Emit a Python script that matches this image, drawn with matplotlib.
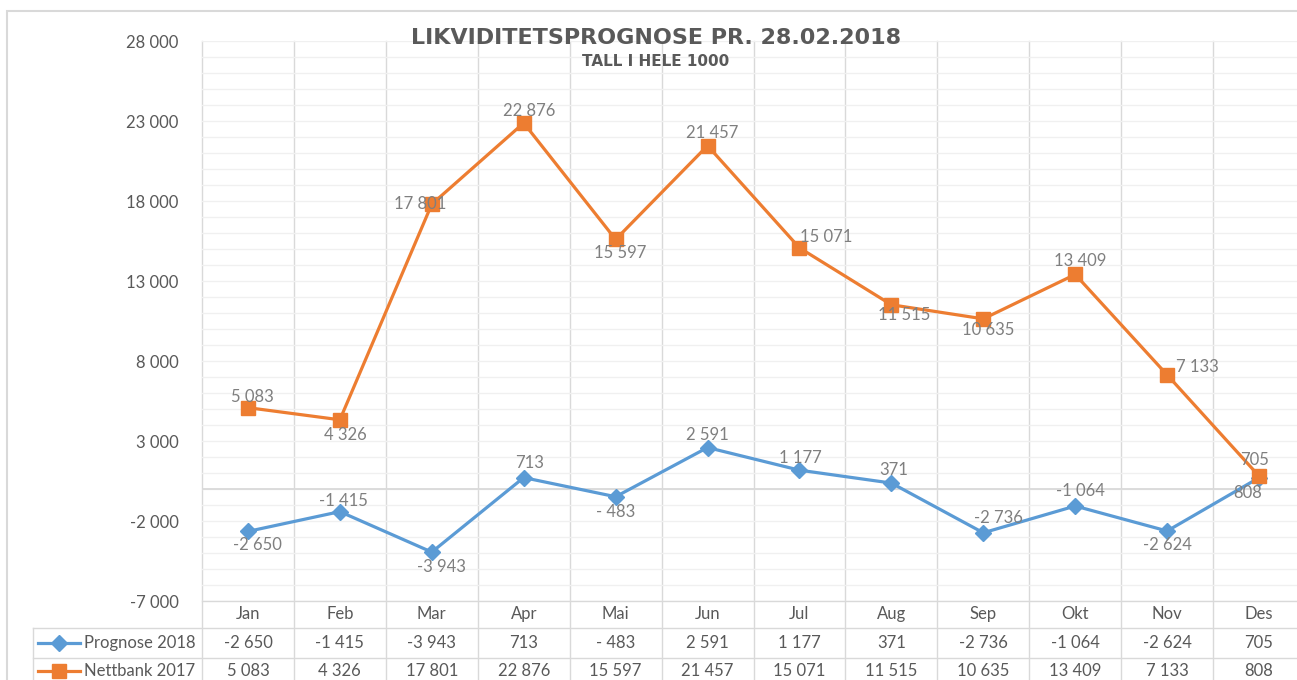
import matplotlib
matplotlib.use("Agg")
import matplotlib.pyplot as plt
from matplotlib.lines import Line2D
from matplotlib.patches import Rectangle
from matplotlib.transforms import blended_transform_factory

plt.rcParams['font.family'] = ['Lato', 'DejaVu Sans']

months = ['Jan', 'Feb', 'Mar', 'Apr', 'Mai', 'Jun', 'Jul', 'Aug', 'Sep', 'Okt', 'Nov', 'Des']
prognose_2018 = [-2650, -1415, -3943, 713, -483, 2591, 1177, 371, -2736, -1064, -2624, 705]
nettbank_2017 = [5083, 4326, 17801, 22876, 15597, 21457, 15071, 11515, 10635, 13409, 7133, 808]
series_names = ['Prognose 2018', 'Nettbank 2017']

title = 'LIKVIDITETSPROGNOSE PR. 28.02.2018'
subtitle = 'TALL I HELE 1000'

# label offsets in pixels (dx, dy), copied by eye from the Excel placement
blue_offsets = [(9, -14), (4, 11), (10, -15), (6, 15), (0, -15), (0, 13),
                (1, 12), (2, 13), (15, 15), (5, 15), (0, -14), (-4, 18)]
orange_offsets = [(4, 11), (6, -15), (-12, 0), (5, 12), (5, -14), (5, 13),
                  (27, 11), (13, -10), (5, -11), (5, 13), (30, 8), (-11, -17)]

BLUE = '#5B9BD5'
ORANGE = '#ED7D31'
TEXT = '#595959'
LABEL = '#7F7F7F'
GRID = '#D9D9D9'
MINOR = '#F0F0F0'

W, H = 1297, 680


def fmt(v):
    s = f"{abs(v):,}".replace(',', ' ')
    if v < 0:
        return ('- ' if abs(v) < 1000 else '-') + s
    return s


fig = plt.figure(figsize=(W / 100, H / 100), dpi=100)

# outer chart border
fig.add_artist(Rectangle((7 / W, -0.1), 1.2, 1.1 - 11 / H, transform=fig.transFigure,
                         fill=False, edgecolor=GRID, linewidth=1.5))

# plot area: left 202px, right 1305px (cut off by image), top 41px, bottom 601px
ax = fig.add_axes([202 / W, 1 - 601 / H, (1305 - 202) / W, 560 / H])
x = list(range(len(months)))
ax.set_xlim(-0.5, len(months) - 0.5)
ax.set_ylim(-7000, 28000)
for s in ax.spines.values():
    s.set_visible(False)

ax.set_yticks(range(-7000, 28001, 5000))
ax.set_yticklabels([fmt(v) for v in range(-7000, 28001, 5000)])
ax.set_yticks(range(-7000, 28001, 1000), minor=True)
ax.tick_params(axis='y', which='both', length=0, pad=17, labelsize=12, labelcolor=TEXT)
ax.set_xticks([])
ax.grid(axis='y', which='both', color=MINOR, linewidth=1)
ax.set_axisbelow(True)
ax.axhline(0, color=GRID, linewidth=1.3, zorder=1)

px_per_cat = 1103 / 12


def xpx(px):
    return (px - 202) / px_per_cat - 0.5


def ypx(py):
    return (601 - py) / 560


bt = blended_transform_factory(ax.transData, ax.transAxes)
table_bottom = ypx(700)

# vertical gridlines reaching down through the data table
for b in [i - 0.5 for i in range(len(months) + 1)]:
    ax.plot([b, b], [1, table_bottom], transform=bt, color=GRID, linewidth=1,
            clip_on=False, zorder=0)
ax.plot([-0.5, 12], [0, 0], transform=bt, color=GRID, linewidth=1, clip_on=False)
for py in (628, 658):
    ax.plot([xpx(33), 12], [ypx(py), ypx(py)], transform=bt, color=GRID,
            linewidth=1, clip_on=False)
ax.plot([xpx(33), xpx(33)], [ypx(628), table_bottom], transform=bt, color=GRID,
        linewidth=1, clip_on=False)

# lines
ax.plot(x, prognose_2018, color=BLUE, linewidth=2.3, marker='D', markersize=8,
        zorder=3)
ax.plot(x, nettbank_2017, color=ORANGE, linewidth=2.3, marker='s', markersize=10,
        zorder=3)

for xi, v, off in zip(x, prognose_2018, blue_offsets):
    ax.annotate(fmt(v), (xi, v), xytext=off, textcoords='offset pixels',
                ha='center', va='center', fontsize=12, color=LABEL, zorder=4)
for xi, v, off in zip(x, nettbank_2017, orange_offsets):
    ax.annotate(fmt(v), (xi, v), xytext=off, textcoords='offset pixels',
                ha='center', va='center', fontsize=12, color=LABEL, zorder=4)

# data table
row_y = [ypx(614), ypx(643), ypx(671)]
for xi, m in zip(x, months):
    ax.text(xi, row_y[0], m, transform=bt, ha='center', va='center',
            fontsize=12, color=TEXT)
for xi, a, b in zip(x, prognose_2018, nettbank_2017):
    ax.text(xi, row_y[1], fmt(a), transform=bt, ha='center', va='center',
            fontsize=12, color=TEXT)
    ax.text(xi, row_y[2], fmt(b), transform=bt, ha='center', va='center',
            fontsize=12, color=TEXT)

for name, color, mk, ms, ry in [(series_names[0], BLUE, 'D', 8, 643),
                                (series_names[1], ORANGE, 's', 10, 671)]:
    fy = 1 - ry / H
    fig.add_artist(Line2D([38 / W, 80 / W], [fy, fy], color=color, linewidth=2.3,
                          transform=fig.transFigure))
    fig.add_artist(Line2D([59 / W], [fy], color=color, marker=mk, markersize=ms,
                          transform=fig.transFigure))
    fig.text(84 / W, fy, name, ha='left', va='center', fontsize=12, color=TEXT)

fig.text(656 / W, 1 - 38 / H, title, ha='center', va='center', fontsize=16,
         fontweight='bold', color=TEXT, family='DejaVu Sans')
fig.text(656 / W, 1 - 62 / H, subtitle, ha='center', va='center', fontsize=11,
         fontweight='bold', color=TEXT, family='DejaVu Sans')

fig.savefig('out.png', dpi=100)
